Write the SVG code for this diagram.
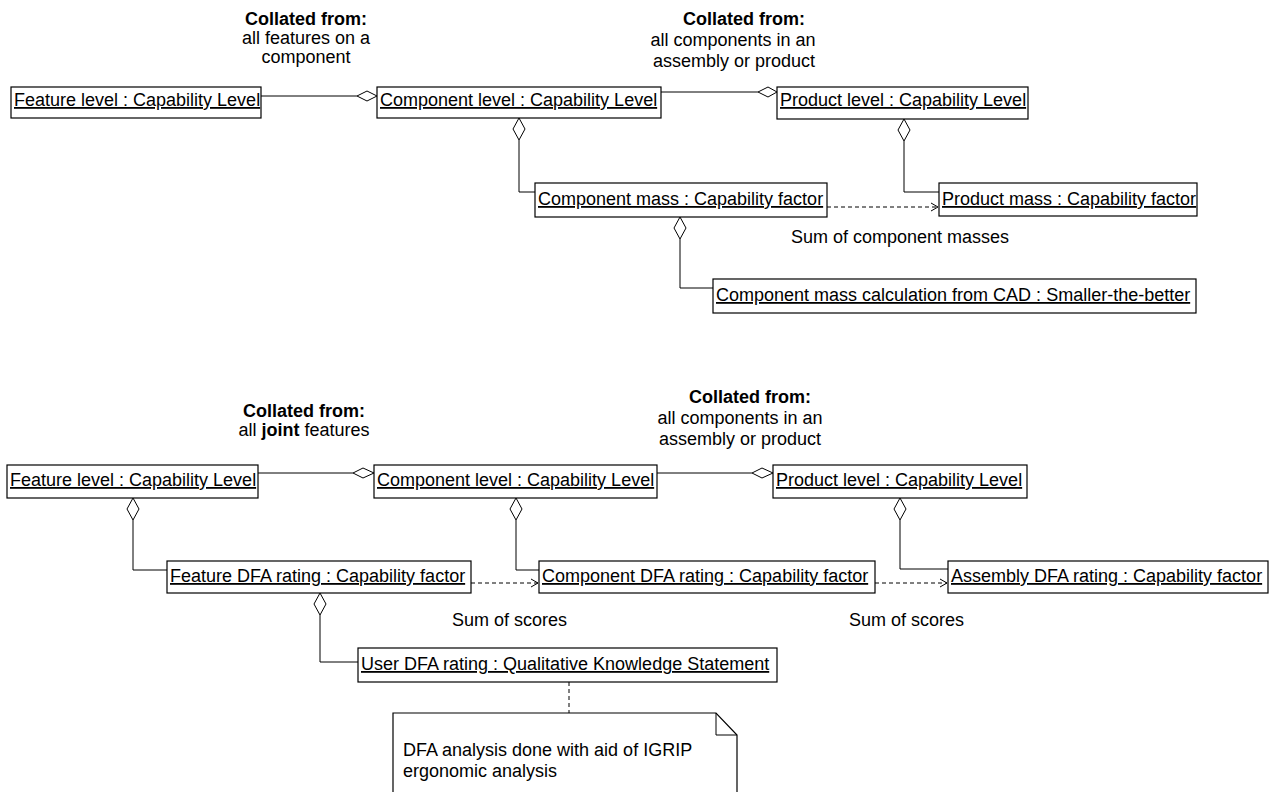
<svg xmlns="http://www.w3.org/2000/svg" width="1278" height="792" viewBox="0 0 1278 792">
<style>
text{font-family:"Liberation Sans",Arial,sans-serif;font-size:18px;fill:#000}
.b{font-weight:bold}
.u{text-decoration:underline}
.box{fill:#fff;stroke:#000;stroke-width:1.2}
.ln{fill:none;stroke:#000;stroke-width:1}
.dash{fill:none;stroke:#000;stroke-width:1;stroke-dasharray:4 3}
.dia{fill:#fff;stroke:#000;stroke-width:1}
.c{text-anchor:middle}
</style>
<defs>
<marker id="arr" markerWidth="10" markerHeight="10" refX="8" refY="5" orient="auto" markerUnits="userSpaceOnUse">
<path d="M1,1 L8,5 L1,9" fill="none" stroke="#000" stroke-width="1"/>
</marker>
</defs>
<rect width="1278" height="792" fill="#fff"/>

<g id="labels">
<text class="b c" x="306" y="25">Collated from:</text>
<text class="c" x="306" y="44">all features on a</text>
<text class="c" x="306" y="63">component</text>
<text class="b c" x="744" y="25">Collated from:</text>
<text class="c" x="733" y="46">all components in an</text>
<text class="c" x="734" y="67">assembly or product</text>
<text x="791" y="243">Sum of component masses</text>
<text class="b c" x="304" y="417">Collated from:</text>
<text class="c" x="304" y="436">all <tspan class="b">joint</tspan> features</text>
<text class="b c" x="750" y="403">Collated from:</text>
<text class="c" x="740" y="424">all components in an</text>
<text class="c" x="740" y="445">assembly or product</text>
<text x="452" y="626">Sum of scores</text>
<text x="849" y="626">Sum of scores</text>
</g>

<g id="connectors">
<!-- top -->
<path class="ln" d="M261,96 H357"/>
<path class="dia" d="M357,96 L367,91 L377,96 L367,101 Z"/>
<path class="ln" d="M661,92 H758"/>
<path class="dia" d="M758,92 L768,87 L777,92 L768,97 Z"/>
<path class="dia" d="M519,118 L525,129 L519,140 L513,129 Z"/>
<path class="ln" d="M519,140 V192 H535"/>
<path class="dia" d="M904,119 L910,130 L904,141 L898,130 Z"/>
<path class="ln" d="M904,141 V192 H939"/>
<path class="dia" d="M680,217 L686,228 L680,239 L674,228 Z"/>
<path class="ln" d="M680,239 V288 H713"/>
<path class="dash" d="M827,207 H938" marker-end="url(#arr)"/>
<!-- bottom -->
<path class="ln" d="M258,473 H353"/>
<path class="dia" d="M353,473 L363,468 L374,473 L363,478 Z"/>
<path class="ln" d="M657,473 H752"/>
<path class="dia" d="M752,473 L762,468 L773,473 L762,478 Z"/>
<path class="dia" d="M133,498 L139,509 L133,520 L127,509 Z"/>
<path class="ln" d="M133,520 V570 H167"/>
<path class="dia" d="M516,498 L522,509 L516,520 L510,509 Z"/>
<path class="ln" d="M516,520 V570 H539"/>
<path class="dia" d="M900,498 L906,509 L900,520 L894,509 Z"/>
<path class="ln" d="M900,520 V569 H948"/>
<path class="dia" d="M320,593 L326,604 L320,615 L314,604 Z"/>
<path class="ln" d="M320,615 V662 H358"/>
<path class="dash" d="M471,583 H538" marker-end="url(#arr)"/>
<path class="dash" d="M875,583 H947" marker-end="url(#arr)"/>
<path class="dash" d="M569,682 V713"/>
</g>

<g id="feature-level-1"><rect class="box" x="11" y="87" width="250" height="31"/><text class="u" x="14" y="106">Feature level : Capability Level</text></g>
<g id="component-level-1"><rect class="box" x="377" y="87" width="284" height="31"/><text class="u" x="380" y="106">Component level : Capability Level</text></g>
<g id="product-level-1"><rect class="box" x="777" y="87" width="251" height="32"/><text class="u" x="780" y="106">Product level : Capability Level</text></g>
<g id="component-mass"><rect class="box" x="535" y="183" width="292" height="34"/><text class="u" x="538" y="205">Component mass : Capability factor</text></g>
<g id="product-mass"><rect class="box" x="939" y="183" width="258" height="33"/><text class="u" x="942" y="205">Product mass : Capability factor</text></g>
<g id="component-mass-cad"><rect class="box" x="713" y="279" width="483" height="34"/><text class="u" x="716" y="301">Component mass calculation from CAD : Smaller-the-better</text></g>

<g id="feature-level-2"><rect class="box" x="7" y="465" width="251" height="33"/><text class="u" x="10" y="486">Feature level : Capability Level</text></g>
<g id="component-level-2"><rect class="box" x="374" y="465" width="283" height="33"/><text class="u" x="377" y="486">Component level : Capability Level</text></g>
<g id="product-level-2"><rect class="box" x="773" y="465" width="254" height="33"/><text class="u" x="776" y="486">Product level : Capability Level</text></g>
<g id="feature-dfa"><rect class="box" x="167" y="561" width="304" height="32"/><text class="u" x="170" y="582">Feature DFA rating : Capability factor</text></g>
<g id="component-dfa"><rect class="box" x="539" y="561" width="336" height="32"/><text class="u" x="542" y="582">Component DFA rating : Capability factor</text></g>
<g id="assembly-dfa"><rect class="box" x="948" y="561" width="320" height="32"/><text class="u" x="951" y="582">Assembly DFA rating : Capability factor</text></g>
<g id="user-dfa"><rect class="box" x="358" y="648" width="419" height="34"/><text class="u" x="361" y="670">User DFA rating : Qualitative Knowledge Statement</text></g>

<g id="note">
<path class="box" d="M393,800 V713 H716 L737,735 V800"/>
<path class="ln" d="M716,713 V735 H737"/>
<text x="403" y="756">DFA analysis done with aid of IGRIP</text>
<text x="403" y="777">ergonomic analysis</text>
</g>
</svg>
